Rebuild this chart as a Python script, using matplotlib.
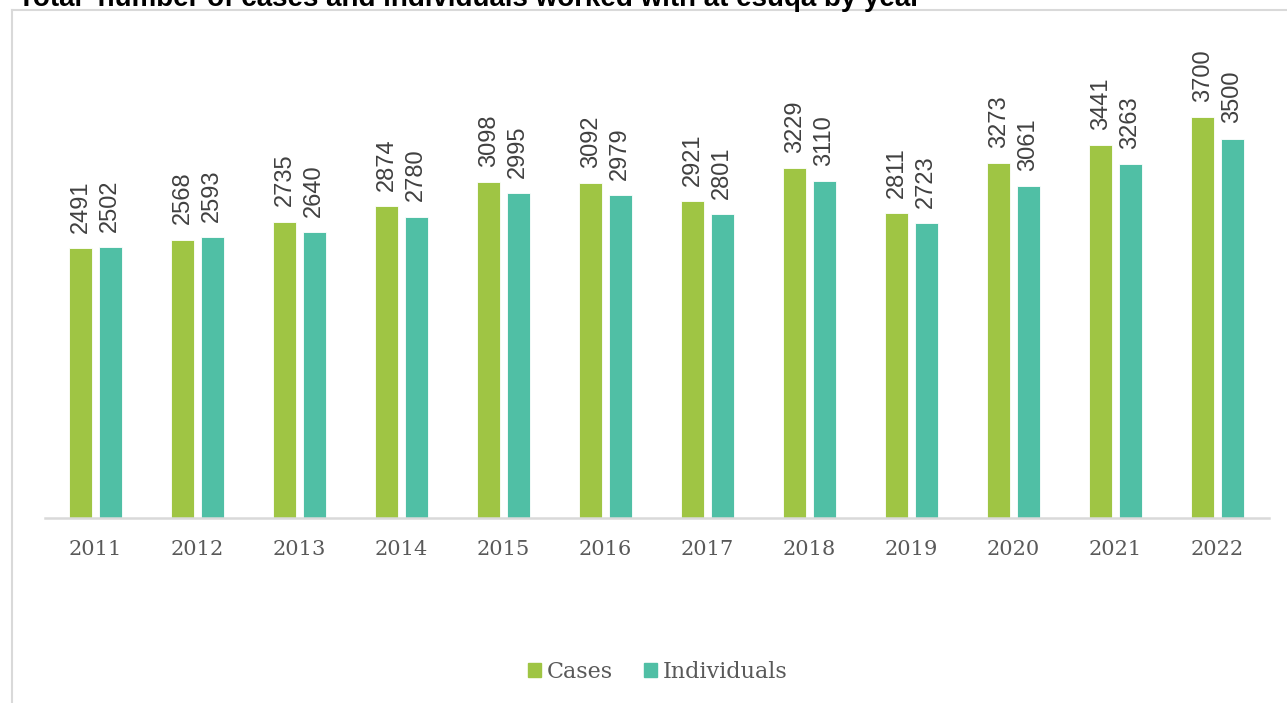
import matplotlib.pyplot as plt
import numpy as np
from matplotlib.lines import Line2D
from matplotlib.patches import Patch

years = ['2011', '2012', '2013', '2014', '2015', '2016',
         '2017', '2018', '2019', '2020', '2021', '2022']
cases = [2491, 2568, 2735, 2874, 3098, 3092, 2921, 3229, 2811, 3273, 3441, 3700]
individuals = [2502, 2593, 2640, 2780, 2995, 2979, 2801, 3110, 2723, 3061, 3263, 3500]

green = '#9FC544'
teal = '#50BFA5'

fig = plt.figure(figsize=(12.87, 7.03), dpi=100)
ax = fig.add_axes([44.5/1287, (703-518)/703, 1224/1287, (518-84.4)/703])

x = np.arange(len(years))
w = 0.225
off = 0.144
b1 = ax.bar(x - off, cases, w, color=green, edgecolor='white', linewidth=0.6)
b2 = ax.bar(x + off, individuals, w, color=teal, edgecolor='white', linewidth=0.6)

for bars, vals in ((b1, cases), (b2, individuals)):
    for r, v in zip(bars, vals):
        ax.annotate(str(v), (r.get_x() + r.get_width()/2, v),
                    xytext=(0, 11), textcoords='offset points',
                    rotation=90, ha='center', va='bottom',
                    fontsize=17, color='#404040', family='Liberation Sans',
                    annotation_clip=False)

ax.set_xlim(-0.5, 11.5)
ax.set_ylim(0, 4000)
ax.set_yticks([])
ax.set_xticks(x)
ax.set_xticklabels(years, fontsize=15, color='#595959', family='DejaVu Serif')
ax.tick_params(axis='x', length=0, pad=16)
for s in ['top', 'right', 'left']:
    ax.spines[s].set_visible(False)
ax.spines['bottom'].set_color('#D9D9D9')
ax.spines['bottom'].set_linewidth(1.8)

# outer chart frame (partly off the image)
fig.add_artist(Line2D([12/1287, 12/1287], [0, 1 - 10/703], color='#D9D9D9', lw=1.5))
fig.add_artist(Line2D([12/1287, 1], [1 - 10/703, 1 - 10/703], color='#D9D9D9', lw=1.5))

fig.text(18/1287, 1 - 6/703, 'Total  number of cases and individuals worked with at esuqa by year',
         fontsize=20, fontweight='bold', family='Liberation Sans', color='black',
         ha='left', va='baseline')

handles = [Patch(color=green, label='Cases'), Patch(color=teal, label='Individuals')]
fig.legend(handles=handles, loc='center', bbox_to_anchor=(0.511, 0.044), ncol=2,
           frameon=False, handlelength=0.6, handleheight=0.6, handletextpad=0.25,
           columnspacing=1.4, prop={'family': 'DejaVu Serif', 'size': 16},
           labelcolor='#595959')

fig.savefig('out.png', dpi=100)
